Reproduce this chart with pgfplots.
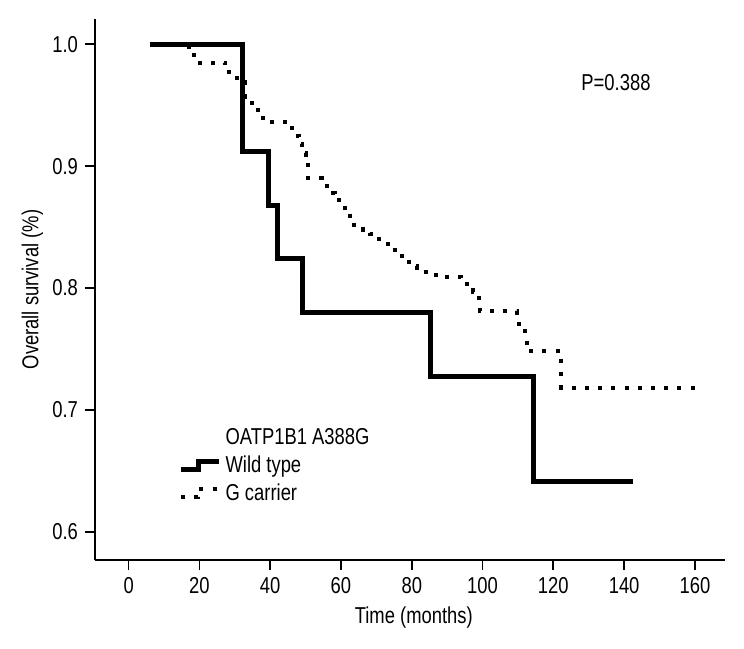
\documentclass[border=0pt]{standalone}
\usepackage{fontspec}
\setmainfont{Liberation Sans}[FakeStretch=0.8]
\usepackage{pgfplots}
\pgfplotsset{compat=1.18}
\newcommand{\lblfont}{\fontsize{11.5}{13.5}\selectfont}
\begin{document}
\begin{tikzpicture}
\useasboundingbox (-47.5pt,-44pt) rectangle (324.5pt,280pt);
\begin{axis}[
  scale only axis, width=315pt, height=270.5pt,
  xmin=-9.5, xmax=168.5, ymin=0.5768, ymax=1.0208,
  axis lines=left, axis line style={-, line width=0.85pt},
  xtick={0,20,...,160}, ytick={0.6,0.7,0.8,0.9,1.0},
  tick align=outside, major tick length=5pt,
  tick style={line width=0.85pt, black},
  tick label style={font=\lblfont, /pgf/number format/assume math mode=true},
  yticklabel style={/pgf/number format/fixed, /pgf/number format/precision=1,
    /pgf/number format/fixed zerofill},
  every axis x label/.style={at={(axis description cs:0.506,-0.107)}, anchor=center, font=\lblfont},
  every axis y label/.style={at={(axis description cs:-0.0992,0.5)}, rotate=90, anchor=center, font=\lblfont},
  xlabel={Time (months)}, ylabel={Overall survival (\%)},
  legend style={at={(axis cs:14,0.688)}, anchor=north west, draw=none, fill=none,
    font=\lblfont, inner sep=0pt, row sep=0pt},
  legend cell align=left,
  legend image code/.code={\draw[#1] (0pt,-2pt) -- (8.5pt,-2pt) -- (8.5pt,2pt) -- (19pt,2pt);},
]
\addlegendimage{empty legend}
\addlegendentry{OATP1B1 A388G}
\addplot[black, line width=2.5pt, const plot] coordinates {
  (6,1.000) (32.3,0.912) (39.5,0.868) (42.0,0.824) (49.0,0.780)
  (85.2,0.727) (114.4,0.641) (142.6,0.641)};
\addlegendentry{Wild type}
\addplot[black, line width=2pt, dash pattern=on 2pt off 4.6pt, const plot] coordinates {
  (6,1.000) (17.0,0.991) (19.0,0.985) (27.3,0.977) (30.5,0.969)
  (33.0,0.957) (34.8,0.950) (36.5,0.942) (38.0,0.936) (45.6,0.931)
  (47.0,0.925) (48.0,0.918) (49.0,0.911) (50.0,0.904) (50.8,0.890)
  (54.6,0.884) (57.0,0.878) (58.3,0.872) (60.4,0.866) (62.6,0.859)
  (63.8,0.852) (66.3,0.848) (68.2,0.844) (70.1,0.840) (72.0,0.836)
  (73.9,0.831) (77.3,0.824) (79.3,0.818) (81.4,0.813) (86.9,0.809)
  (94.0,0.805) (95.5,0.801) (97.4,0.797) (99.0,0.790) (99.4,0.781)
  (109.8,0.776) (110.4,0.767) (112.0,0.760) (112.5,0.748)
  (122.3,0.718) (160,0.718)};
\addlegendentry{G carrier}
\node[font=\lblfont] at (axis cs:137.7,0.969) {P=0.388};
\end{axis}
\end{tikzpicture}
\end{document}
